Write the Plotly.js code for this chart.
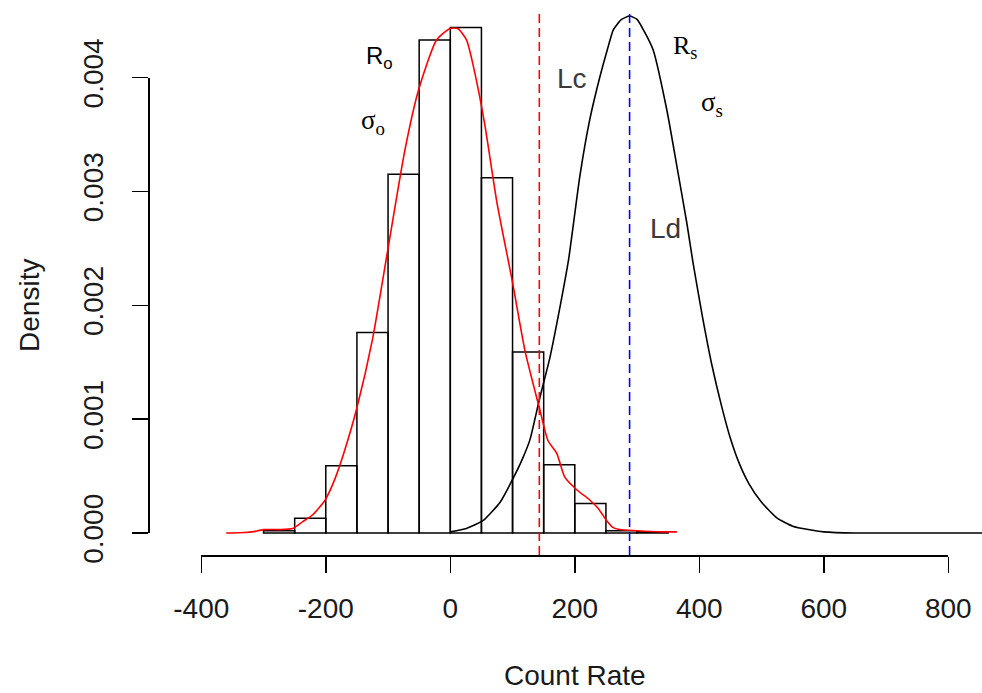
<!DOCTYPE html>
<html>
<head>
<meta charset="utf-8">
<script src="https://cdn.plot.ly/plotly-3.0.1.min.js"></script>
<style>html,body{margin:0;padding:0;background:#fff;}#chart{width:982px;height:693px;}</style>
</head>
<body>
<div id="chart"></div>
<script>
// Histogram of background count rate (bin centres, density)
const binCenters = [-275, -225, -175, -125, -75, -25, 25, 75, 125, 175, 225, 275, 325];
const binDensity = [0.00002, 0.00013, 0.00059, 0.00176, 0.00315, 0.00433, 0.00444, 0.00312, 0.00159, 0.00060, 0.00026, 0.00002, 0.00001];
const binWidth = 50;

// Red density curve of the background
const redX = [-360, -330, -318, -300, -275, -253, -237, -221, -201, -185, -170, -150, -125, -100, -73, -51, -22, 0, 12, 26, 37, 55, 75, 100, 120, 143, 157, 171, 184, 203, 224, 237, 251, 261, 272, 300, 340, 364];
const redY = [0, 0.000005, 0.00001, 0.00003, 0.00003, 0.00004, 0.0001, 0.00016, 0.00029, 0.00048, 0.00072, 0.0011, 0.0017, 0.0025, 0.00336, 0.00389, 0.00433, 0.00443, 0.00443, 0.00433, 0.0041, 0.0036, 0.0029, 0.0022, 0.0016, 0.0011, 0.00081, 0.0007, 0.00049, 0.00038, 0.00029, 0.00022, 0.00011, 0.00005, 0.00003, 0.00002, 0.00001, 0.00001];

// Black density curve of the signal
const blackX = [0, 26, 53, 80, 100, 115, 128, 143, 160, 175, 190, 208, 224, 240, 252, 262, 275, 288, 300, 312, 326, 348, 364, 380, 390, 405, 420, 436, 450, 465, 480, 500, 525, 550, 575, 600, 650, 700, 800, 860];
const blackY = [0.00001, 0.00004, 0.00011, 0.00027, 0.00047, 0.00064, 0.00082, 0.00117, 0.00154, 0.00195, 0.0024, 0.00313, 0.00363, 0.004, 0.00424, 0.00442, 0.00451, 0.00454, 0.00451, 0.0044, 0.00424, 0.00371, 0.00322, 0.00272, 0.00237, 0.0019, 0.00148, 0.00111, 0.00083, 0.0006, 0.00043, 0.00027, 0.00013, 0.00006, 0.00003, 0.00001, 0, 0, 0, 0];

// Critical level and detection limit
const Lc = 143;
const Ld = 288;

// Axis ticks
const xTicks = [-400, -200, 0, 200, 400, 600, 800];
const yTicks = [0, 0.001, 0.002, 0.003, 0.004];

// Text labels
const labelText = ['R<sub>o</sub>', 'σ<sub>o</sub>', 'Lc', 'R<sub>s</sub>', 'σ<sub>s</sub>', 'Ld'];
const labelX = [-113, -124, 196, 377, 420, 346];
const labelY = [0.00418, 0.00361, 0.00399, 0.00427, 0.00377, 0.00267];

const sans = 'Liberation Sans, Arial, sans-serif';
const serif = 'Liberation Serif, Times New Roman, serif';
const labelFont = [
  {family: sans, size: 24, color: '#000'},
  {family: serif, size: 27, color: '#000'},
  {family: sans, size: 28, color: '#3a3a3a'},
  {family: serif, size: 26, color: '#000'},
  {family: serif, size: 27, color: '#000'},
  {family: sans, size: 28, color: '#3a3a3a'}
];

const traces = [
  {type: 'bar', x: binCenters, y: binDensity, width: binWidth,
   marker: {color: 'rgba(255,255,255,0)', line: {color: '#000', width: 1.5}},
   hoverinfo: 'skip', showlegend: false},
  {type: 'scatter', mode: 'lines', x: blackX, y: blackY,
   line: {color: '#000', width: 1.6, shape: 'spline', smoothing: 0.5}, showlegend: false},
  {type: 'scatter', mode: 'lines', x: redX, y: redY,
   line: {color: '#ff0000', width: 1.6, shape: 'spline', smoothing: 0.6}, showlegend: false},
  {type: 'scatter', mode: 'markers', x: [], y: [], xaxis: 'x2', yaxis: 'y2', showlegend: false}
];

const axisFont = {family: sans, size: 28, color: '#1a1a1a'};

const layout = {
  width: 982, height: 693,
  margin: {l: 148, r: 0, t: 10, b: 138, pad: 0},
  paper_bgcolor: '#fff', plot_bgcolor: 'rgba(0,0,0,0)',
  showlegend: false,
  bargap: 0,
  xaxis: {range: [-485.6, 854.1], visible: false, domain: [0, 1]},
  yaxis: {range: [-0.0001932, 0.0045928], visible: false, domain: [0, 1]},
  xaxis2: {
    domain: [0.0639, 0.9596], range: [-400, 800], anchor: 'free', position: 0,
    showline: true, linecolor: '#000', linewidth: 1.5, showgrid: false, zeroline: false,
    ticks: 'outside', ticklen: 16, tickwidth: 1.5, tickcolor: '#000',
    ticklabelstandoff: 12,
    tickvals: xTicks, ticktext: xTicks.map(String), tickfont: axisFont,
    title: {text: 'Count Rate', font: axisFont, standoff: 42}
  },
  yaxis2: {
    domain: [0.04037, 0.8761], range: [0, 0.004], anchor: 'free', position: 0,
    showline: true, linecolor: '#000', linewidth: 1.5, showgrid: false, zeroline: false,
    ticks: 'outside', ticklen: 16, tickwidth: 1.5, tickcolor: '#000',
    ticklabelstandoff: 18,
    tickvals: yTicks, ticktext: yTicks.map(v => v.toFixed(3)), tickangle: -90, tickfont: axisFont,
    title: {text: 'Density', font: axisFont, standoff: 28}
  },
  shapes: [
    {type: 'line', xref: 'x', yref: 'paper', x0: Lc, x1: Lc, y0: 0, y1: 1,
     line: {color: '#ff0000', width: 1.6, dash: '9px,5px'}},
    {type: 'line', xref: 'x', yref: 'paper', x0: Ld, x1: Ld, y0: 0, y1: 1,
     line: {color: '#0000ff', width: 1.6, dash: '9px,5px'}}
  ],
  annotations: labelText.map((t, i) => ({
    text: t, x: labelX[i], y: labelY[i], xref: 'x', yref: 'y',
    showarrow: false, font: labelFont[i], xanchor: 'center', yanchor: 'middle'
  }))
};

Plotly.newPlot('chart', traces, layout, {displayModeBar: false, staticPlot: true});
</script>
</body>
</html>
